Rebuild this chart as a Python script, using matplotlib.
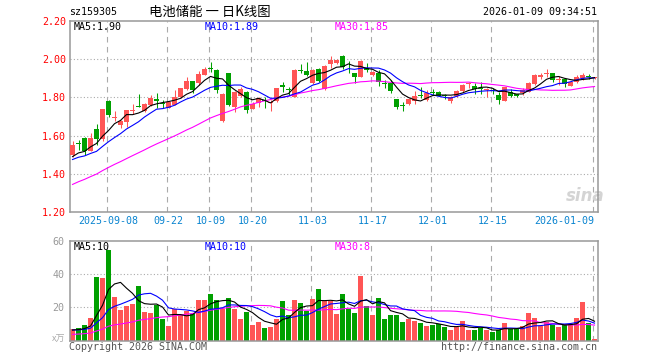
import numpy as np
import pandas as pd
import matplotlib
matplotlib.use("Agg")
import matplotlib.pyplot as plt

# ---------------- data ----------------
opens = [1.500, 1.562, 1.589, 1.520, 1.633, 1.580, 1.781, 1.692, 1.654, 1.672,
         1.730, 1.752, 1.728, 1.760, 1.790, 1.772, 1.745, 1.762, 1.800, 1.845,
         1.886, 1.876, 1.917, 1.955, 1.944, 1.676, 1.926, 1.748, 1.805, 1.830,
         1.740, 1.772, 1.785, 1.772, 1.780, 1.866, 1.842, 1.803, 1.942, 1.940,
         1.874, 1.949, 1.842, 1.975, 1.980, 2.015, 1.967, 1.926, 1.909, 1.952,
         1.917, 1.926, 1.872, 1.873, 1.790, 1.758, 1.766, 1.780, 1.813, 1.788,
         1.826, 1.830, 1.812, 1.780, 1.805, 1.832, 1.868, 1.860, 1.850, 1.840,
         1.838, 1.812, 1.782, 1.830, 1.816, 1.822, 1.830, 1.872, 1.906, 1.922,
         1.928, 1.893, 1.895, 1.862, 1.882, 1.900, 1.913, 1.900]
highs = [1.572, 1.579, 1.592, 1.611, 1.663, 1.740, 1.785, 1.728, 1.680, 1.735,
         1.763, 1.817, 1.770, 1.812, 1.824, 1.786, 1.780, 1.838, 1.850, 1.905,
         1.888, 1.940, 1.961, 1.985, 1.948, 1.825, 1.930, 1.835, 1.856, 1.835,
         1.775, 1.803, 1.800, 1.785, 1.850, 1.882, 1.857, 1.948, 1.975, 1.986,
         1.950, 1.952, 1.970, 2.017, 2.000, 2.020, 1.990, 1.930, 1.995, 1.979,
         1.940, 1.944, 1.890, 1.890, 1.792, 1.776, 1.795, 1.833, 1.857, 1.838,
         1.845, 1.832, 1.820, 1.807, 1.840, 1.868, 1.880, 1.877, 1.880, 1.847,
         1.848, 1.826, 1.855, 1.842, 1.820, 1.847, 1.880, 1.920, 1.926, 1.950,
         1.930, 1.912, 1.900, 1.886, 1.915, 1.928, 1.925, 1.908]
lows = [1.490, 1.526, 1.496, 1.518, 1.553, 1.570, 1.695, 1.674, 1.642, 1.645,
        1.712, 1.748, 1.725, 1.755, 1.745, 1.745, 1.742, 1.758, 1.798, 1.840,
        1.824, 1.865, 1.915, 1.932, 1.824, 1.670, 1.754, 1.726, 1.800, 1.720,
        1.737, 1.750, 1.745, 1.730, 1.775, 1.826, 1.812, 1.800, 1.928, 1.910,
        1.870, 1.880, 1.838, 1.952, 1.975, 1.950, 1.926, 1.877, 1.905, 1.935,
        1.912, 1.861, 1.850, 1.825, 1.740, 1.730, 1.762, 1.768, 1.795, 1.780,
        1.810, 1.805, 1.790, 1.772, 1.800, 1.830, 1.848, 1.817, 1.816, 1.800,
        1.820, 1.763, 1.780, 1.800, 1.800, 1.815, 1.828, 1.866, 1.896, 1.905,
        1.880, 1.865, 1.856, 1.858, 1.878, 1.892, 1.895, 1.895]
closes = [1.549, 1.558, 1.519, 1.589, 1.580, 1.738, 1.707, 1.698, 1.675, 1.733,
          1.735, 1.750, 1.768, 1.798, 1.780, 1.768, 1.777, 1.803, 1.847, 1.887,
          1.838, 1.924, 1.950, 1.950, 1.840, 1.820, 1.762, 1.830, 1.846, 1.735,
          1.765, 1.798, 1.780, 1.778, 1.847, 1.857, 1.838, 1.944, 1.936, 1.917,
          1.944, 1.887, 1.966, 1.997, 1.996, 1.957, 1.962, 1.907, 1.990, 1.942,
          1.935, 1.882, 1.868, 1.835, 1.748, 1.754, 1.792, 1.807, 1.805, 1.821,
          1.822, 1.808, 1.806, 1.802, 1.836, 1.865, 1.872, 1.844, 1.846, 1.843,
          1.834, 1.787, 1.853, 1.808, 1.805, 1.838, 1.877, 1.917, 1.916, 1.926,
          1.892, 1.896, 1.870, 1.882, 1.905, 1.917, 1.909, 1.905]
volumes = [7, 7.4, 9.4, 13.6, 38.2, 37.6, 54.6, 26.2, 18.4, 20.8,
           22, 32.8, 17.2, 16.6, 21.4, 13, 8.8, 19, 16, 17.8,
           16, 24.4, 24.4, 28, 24.4, 19, 25.6, 19, 13, 17.2,
           9.4, 11.2, 7.6, 8.2, 13, 23.8, 15.4, 24.4, 22.6, 17.8,
           25, 31, 23.8, 23.6, 16, 28, 19, 16.6, 38.8, 20.8,
           15.4, 25.6, 13, 15.4, 15.4, 11.2, 13, 11.8, 10.6, 8.8,
           9.4, 10, 8.2, 6.4, 8.2, 11.8, 6.4, 6.4, 7.6, 6.4,
           5.2, 6.4, 10.6, 7, 7, 8.8, 16.6, 13.6, 8.8, 11.2,
           9.4, 8.2, 9.4, 10, 13.6, 23.2, 10.6, 1]
# closes / volumes of the 29 sessions before the window (needed for the moving averages)
prior_closes = [1.13, 1.15, 1.16, 1.18, 1.19, 1.21, 1.22, 1.24, 1.26, 1.27,
                1.30, 1.31, 1.32, 1.33, 1.35, 1.36, 1.38, 1.39, 1.41, 1.42,
                1.44, 1.45, 1.46, 1.47, 1.48, 1.46, 1.48, 1.47, 1.49]
prior_volumes = [2, 2, 2.5, 2, 3, 2.5, 2, 3, 2.5, 3,
                 2.5, 2, 3, 2.5, 2, 3, 2.5, 3, 2, 3,
                 6, 7, 6, 6.5, 6.5, 6, 6.5, 6, 6.5]

holidays = ["2025-10-01", "2025-10-02", "2025-10-03", "2025-10-06", "2025-10-07",
            "2025-10-08", "2026-01-01", "2026-01-02"]
tick_dates = ["2025-09-08", "2025-09-22", "2025-10-09", "2025-10-20", "2025-11-03",
              "2025-11-17", "2025-12-01", "2025-12-15", "2026-01-09"]
tick_labels = ["2025-09-08", "09-22", "10-09", "10-20", "11-03", "11-17", "12-01",
               "12-15", "2026-01-09"]
price_ticks = [1.20, 1.40, 1.60, 1.80, 2.00, 2.20]
vol_ticks = [20, 40, 60]

title_code = "sz159305"
title_name = "电池储能 一 日K线图"
timestamp = "2026-01-09 09:34:51"
price_ma_labels = ["MA5:1.90", "MA10:1.89", "MA30:1.85"]
vol_ma_labels = ["MA5:10", "MA10:10", "MA30:8"]

# ---------------- computations ----------------
dates = pd.bdate_range("2025-08-29", "2026-01-09")
dates = dates[~dates.isin(pd.to_datetime(holidays))]
n = len(closes)
x = np.arange(n)
tick_idx = [int(np.where(dates == pd.Timestamp(d))[0][0]) for d in tick_dates]

O = np.array(opens); Hh = np.array(highs); L = np.array(lows); C = np.array(closes)
V = np.array(volumes)
allc = pd.Series(prior_closes + closes)
allv = pd.Series(prior_volumes + volumes)
k = len(prior_closes)
ma5 = allc.rolling(5).mean().values[k:]
ma10 = allc.rolling(10).mean().values[k:]
ma30 = allc.rolling(30).mean().values[k:]
vma5 = allv.rolling(5).mean().values[k:]
vma10 = allv.rolling(10).mean().values[k:]
vma30 = allv.rolling(30).mean().values[k:]

RED = "#ff5555"
GREEN = "#00a000"
GRID = "#aaaaaa"
FRAME = "#999999"
BLUE_LBL = "#0a84d0"
MONO = "DejaVu Sans Mono"
CJK = ["Noto Sans CJK SC", "DejaVu Sans"]

up = C >= O
cols = np.where(up, RED, GREEN)

W, H = 660, 360
fig = plt.figure(figsize=(6.6, 3.6), dpi=100)
fig.patch.set_facecolor("white")


def rect(l, t, r, b):
    return [l / W, 1 - b / H, (r - l) / W, (b - t) / H]


def fxy(px, py):
    return px / W, 1 - py / H


ax = fig.add_axes(rect(70, 21, 598, 212))
axv = fig.add_axes(rect(70, 240.7, 598, 340.7))

for a in (ax, axv):
    a.set_xlim(-0.42, n - 0.42)
    for s in a.spines.values():
        s.set_color(FRAME)
        s.set_linewidth(1.1)
    for ti in tick_idx:
        a.axvline(ti - 0.25, color=GRID, lw=0.8, ls=(0, (5, 4)), zorder=0)

# ---- price panel ----
ax.set_ylim(1.20, 2.20)
for p in price_ticks[1:-1]:
    ax.axhline(p, color=GRID, lw=0.8, ls=(0, (1, 2)), zorder=0)
ax.vlines(x, L, Hh, colors=cols, lw=0.75, zorder=2)
body = np.maximum(np.abs(C - O), 0.005)
ax.bar(x, body, bottom=np.minimum(O, C), width=0.82, color=cols, linewidth=0, zorder=3)
ax.plot(x, ma30, color="#ff00ff", lw=0.8, zorder=4)
ax.plot(x, ma10, color="#0000ff", lw=0.8, zorder=4)
ax.plot(x, ma5, color="black", lw=0.8, zorder=4)

ax.set_yticks(price_ticks)
ax.set_yticklabels([f"{p:.2f}" for p in price_ticks], color="#ff0000",
                   family=MONO, fontsize=7.2)
ax.tick_params(axis="y", length=0, pad=3)
ax.set_xticks(tick_idx)
ax.set_xticklabels(tick_labels, color=BLUE_LBL, family=MONO, fontsize=7.2)
ax.tick_params(axis="x", length=0, pad=3)
ax.get_xticklabels()[-1].set_ha("right")
ax.text(0.975, 0.085, "sina", transform=ax.transAxes, ha="center", va="center",
        color="#d4d4d4", fontsize=12, fontweight="bold", style="italic", zorder=1)

# ---- volume panel ----
axv.set_ylim(0, 60)
for v in vol_ticks[:-1]:
    axv.axhline(v, color=GRID, lw=0.8, ls=(0, (1, 2)), zorder=0)
axv.bar(x, V, width=0.82, color=cols, linewidth=0, zorder=2)
axv.plot(x, vma30, color="#ff00ff", lw=0.8, zorder=3)
axv.plot(x, vma10, color="#0000ff", lw=0.8, zorder=3)
axv.plot(x, vma5, color="black", lw=0.8, zorder=3)
axv.set_yticks(vol_ticks)
axv.set_yticklabels([str(v) for v in vol_ticks], color=FRAME, family=MONO, fontsize=7.2)
axv.tick_params(axis="y", length=0, pad=4)
axv.set_xticks([])

# ---- texts ----
fig.text(*fxy(69, 12), title_code, family=MONO, fontsize=7.2, va="center")
fig.text(*fxy(149, 12), title_name, family=CJK, fontsize=9.6, va="center")
fig.text(*fxy(597, 12), timestamp, family=MONO, fontsize=7.2, va="center", ha="right")

ma_cols = ["black", "#0000ff", "#ff00ff"]
ma_x = [74, 205, 335]
for lbl, c, px in zip(price_ma_labels, ma_cols, ma_x):
    fig.text(*fxy(px, 27), lbl, family=MONO, fontsize=7.2, color=c, va="center")
for lbl, c, px in zip(vol_ma_labels, ma_cols, ma_x):
    fig.text(*fxy(px, 247), lbl, family=MONO, fontsize=7.2, color=c, va="center")

fig.text(*fxy(65, 339), "x万", family=CJK, fontsize=6.5, color="#aaaaaa",
         va="center", ha="right")
fig.text(*fxy(69, 347), "Copyright 2026 SINA.COM", family=MONO, fontsize=7.2,
         color="#555555", va="center")
fig.text(*fxy(597, 347), "http://finance.sina.com.cn", family=MONO, fontsize=7.2,
         color="#555555", va="center", ha="right")

fig.savefig("out.png", dpi=100, facecolor="white")
